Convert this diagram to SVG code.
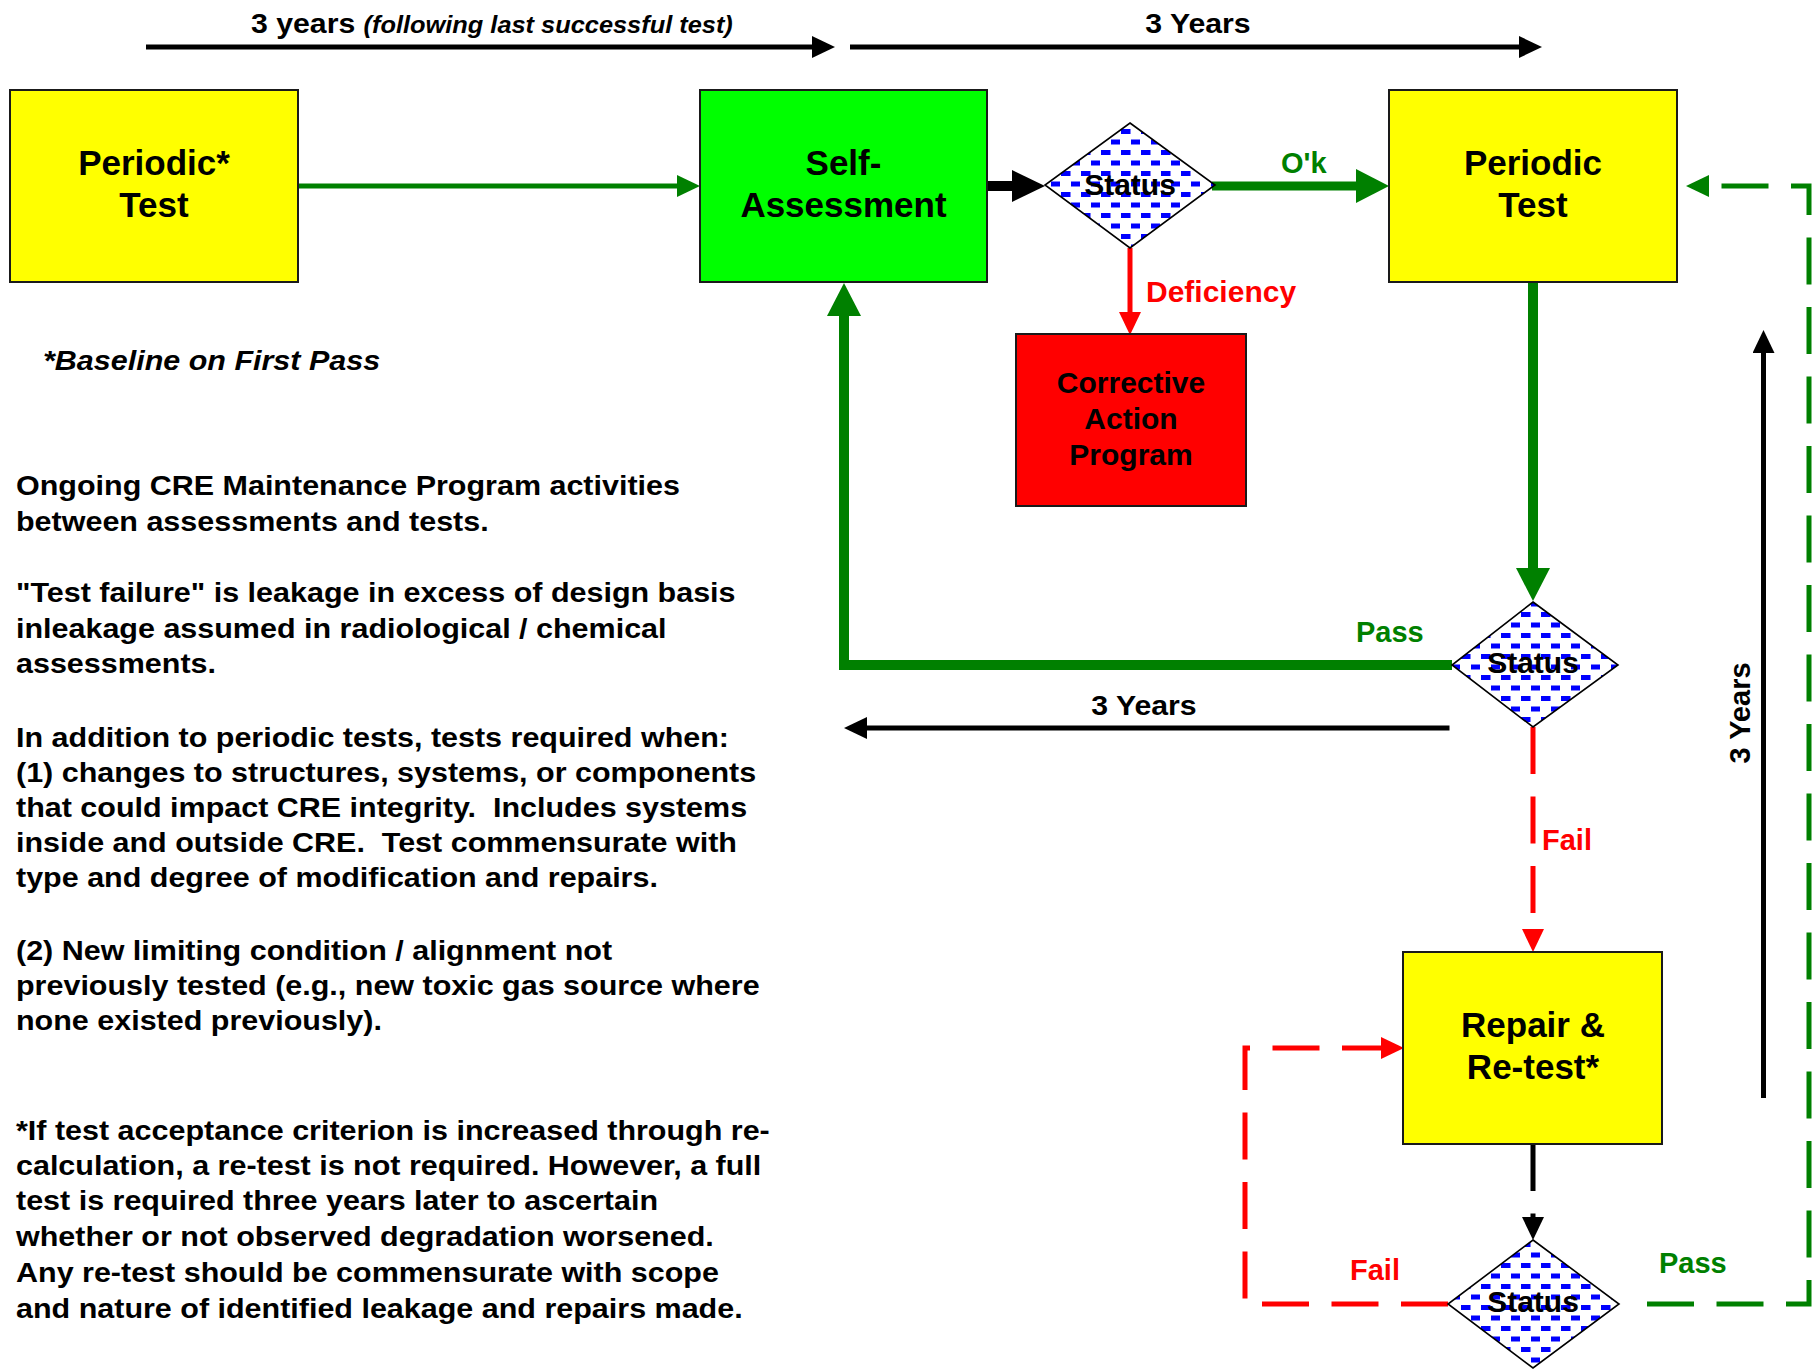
<svg xmlns="http://www.w3.org/2000/svg" width="1818" height="1372" viewBox="0 0 1818 1372">
<style>
text{font-family:"Liberation Sans",Arial,Helvetica,sans-serif;font-weight:bold;fill:#000}
.box{stroke:#1a1a1a;stroke-width:2}
.dia{fill:url(#dash);stroke:#000;stroke-width:1.6}
.nl{font-size:35px;text-anchor:middle}
.st{font-size:30px;text-anchor:middle}
.body{font-size:28.5px}
.lbl{font-size:29px}
.c{fill:none;stroke-linejoin:miter}
.bk{stroke:#000}
.gr{stroke:#008000}
.rd{stroke:#ff0000}
.dsh{stroke-dasharray:47 22.5}
</style>
<defs>
<pattern id="dash" patternUnits="userSpaceOnUse" width="20" height="21">
<rect width="20" height="21" fill="#fff"/>
<rect x="1" y="3" width="9.5" height="5" fill="#0000ff"/>
<rect x="11" y="13.5" width="9.5" height="5" fill="#0000ff"/>
</pattern>
<marker id="ab" markerUnits="userSpaceOnUse" markerWidth="24" markerHeight="22" refX="0" refY="11" orient="auto"><path d="M0,0 L23,11 L0,22 z" fill="#000"/></marker>
<marker id="ag" markerUnits="userSpaceOnUse" markerWidth="24" markerHeight="22" refX="0" refY="11" orient="auto"><path d="M0,0 L23,11 L0,22 z" fill="#008000"/></marker>
<marker id="ar" markerUnits="userSpaceOnUse" markerWidth="24" markerHeight="22" refX="0" refY="11" orient="auto"><path d="M0,0 L23,11 L0,22 z" fill="#ff0000"/></marker>
<marker id="abB" markerUnits="userSpaceOnUse" markerWidth="34" markerHeight="32" refX="0" refY="16" orient="auto"><path d="M0,0 L33,16 L0,32 z" fill="#000"/></marker>
<marker id="agB" markerUnits="userSpaceOnUse" markerWidth="34" markerHeight="34" refX="0" refY="17" orient="auto"><path d="M0,0 L33,17 L0,34 z" fill="#008000"/></marker>
</defs>
<rect width="1818" height="1372" fill="#fff"/>

<g id="connectors">
<path class="c bk" stroke-width="5" d="M146,47 H812" marker-end="url(#ab)"/>
<path class="c bk" stroke-width="5" d="M850,47 H1519" marker-end="url(#ab)"/>
<path class="c gr" stroke-width="5" d="M298,186 H677" marker-end="url(#ag)"/>
<path class="c bk" stroke-width="10" d="M987,186 H1012" marker-end="url(#abB)"/>
<path class="c gr" stroke-width="9" d="M1212,186 H1356" marker-end="url(#agB)"/>
<path class="c rd" stroke-width="5" d="M1130,248 V312" marker-end="url(#ar)"/>
<path class="c gr" stroke-width="10" d="M1533,282 V568" marker-end="url(#agB)"/>
<path class="c gr" stroke-width="10" d="M1452,665 H844 V316" marker-end="url(#agB)"/>
<path class="c bk" stroke-width="5" d="M1449.5,728 H867" marker-end="url(#ab)"/>
<path class="c rd dsh" stroke-width="5" d="M1533,727 V929" marker-end="url(#ar)"/>
<path class="c bk dsh" stroke-width="5" d="M1533,1144 V1217" marker-end="url(#ab)"/>
<path class="c rd dsh" stroke-width="5" d="M1448,1304 H1245 V1048 H1381" marker-end="url(#ar)"/>
<path class="c gr dsh" stroke-width="5" d="M1647,1304 H1809 V186 H1709" marker-end="url(#ag)"/>
<path class="c bk" stroke-width="5" d="M1763.5,1098 V353" marker-end="url(#ab)"/>
</g>

<g id="node-periodic-star-test">
<rect class="box" x="10" y="90" width="288" height="192" fill="#ffff00"/>
<text class="nl" x="154" y="175">Periodic*</text>
<text class="nl" x="154" y="217">Test</text>
</g>
<g id="node-self-assessment">
<rect class="box" x="700" y="90" width="287" height="192" fill="#00ff00"/>
<text class="nl" x="843.5" y="175">Self-</text>
<text class="nl" x="843.5" y="217">Assessment</text>
</g>
<g id="node-status-1">
<polygon class="dia" points="1130,123 1215,185 1130,248 1045,185"/>
<text class="st" x="1130" y="195">Status</text>
</g>
<g id="node-periodic-test">
<rect class="box" x="1389" y="90" width="288" height="192" fill="#ffff00"/>
<text class="nl" x="1533" y="175">Periodic</text>
<text class="nl" x="1533" y="217">Test</text>
</g>
<g id="node-corrective-action">
<rect class="box" x="1016" y="334" width="230" height="172" fill="#ff0000"/>
<text class="st" x="1131" y="393">Corrective</text>
<text class="st" x="1131" y="429">Action</text>
<text class="st" x="1131" y="465">Program</text>
</g>
<g id="node-status-2">
<polygon class="dia" points="1533,602 1618,665 1533,727 1452,665"/>
<text class="st" x="1533" y="673">Status</text>
</g>
<g id="node-repair-retest">
<rect class="box" x="1403" y="952" width="259" height="192" fill="#ffff00"/>
<text class="nl" x="1533" y="1037">Repair &amp;</text>
<text class="nl" x="1533" y="1079">Re-test*</text>
</g>
<g id="node-status-3">
<polygon class="dia" points="1533,1240 1619,1304 1533,1368 1448,1304"/>
<text class="st" x="1533" y="1312">Status</text>
</g>

<g id="labels">
<g transform="translate(251 0) scale(1.08 1)">
<text x="0" y="33"><tspan font-size="28">3 years </tspan><tspan font-size="23.5" font-style="italic">(following last successful test)</tspan></text>
</g>
<g transform="translate(1198 0) scale(1.08 1)"><text x="0" y="33" font-size="28" text-anchor="middle">3 Years</text></g>
<g transform="translate(1144 0) scale(1.08 1)"><text x="0" y="715" font-size="28" text-anchor="middle">3 Years</text></g>
<text class="lbl" x="0" y="0" text-anchor="middle" transform="translate(1750 713) rotate(-90)">3 Years</text>
<text class="lbl" x="1281" y="173" style="fill:#008000">O'k</text>
<text x="1146" y="302" font-size="30" style="fill:#ff0000">Deficiency</text>
<text class="lbl" x="1356" y="642" style="fill:#008000">Pass</text>
<text class="lbl" x="1542" y="850" style="fill:#ff0000">Fail</text>
<text class="lbl" x="1350" y="1280" style="fill:#ff0000">Fail</text>
<text class="lbl" x="1659" y="1273" style="fill:#008000">Pass</text>
</g>

<g id="notes">
<g transform="translate(43 0) scale(1.07 1)"><text class="body" x="0" y="370" font-style="italic">*Baseline on First Pass</text></g>
<g transform="translate(16 0) scale(1.07 1)" class="body">
<text class="body" x="0" y="495">Ongoing CRE Maintenance Program activities</text>
<text class="body" x="0" y="531.5">between assessments and tests.</text>
<text class="body" x="0" y="602">"Test failure" is leakage in excess of design basis</text>
<text class="body" x="0" y="638">inleakage assumed in radiological / chemical</text>
<text class="body" x="0" y="673">assessments.</text>
<text class="body" x="0" y="747">In addition to periodic tests, tests required when:</text>
<text class="body" x="0" y="782">(1) changes to structures, systems, or components</text>
<text class="body" x="0" y="817" xml:space="preserve">that could impact CRE integrity.  Includes systems</text>
<text class="body" x="0" y="852" xml:space="preserve">inside and outside CRE.  Test commensurate with</text>
<text class="body" x="0" y="887">type and degree of modification and repairs.</text>
<text class="body" x="0" y="960">(2) New limiting condition / alignment not</text>
<text class="body" x="0" y="995">previously tested (e.g., new toxic gas source where</text>
<text class="body" x="0" y="1030">none existed previously).</text>
<text class="body" x="0" y="1140">*If test acceptance criterion is increased through re-</text>
<text class="body" x="0" y="1175">calculation, a re-test is not required. However, a full</text>
<text class="body" x="0" y="1210">test is required three years later to ascertain</text>
<text class="body" x="0" y="1246">whether or not observed degradation worsened.</text>
<text class="body" x="0" y="1282">Any re-test should be commensurate with scope</text>
<text class="body" x="0" y="1318">and nature of identified leakage and repairs made.</text>
</g>
</g>
</svg>
